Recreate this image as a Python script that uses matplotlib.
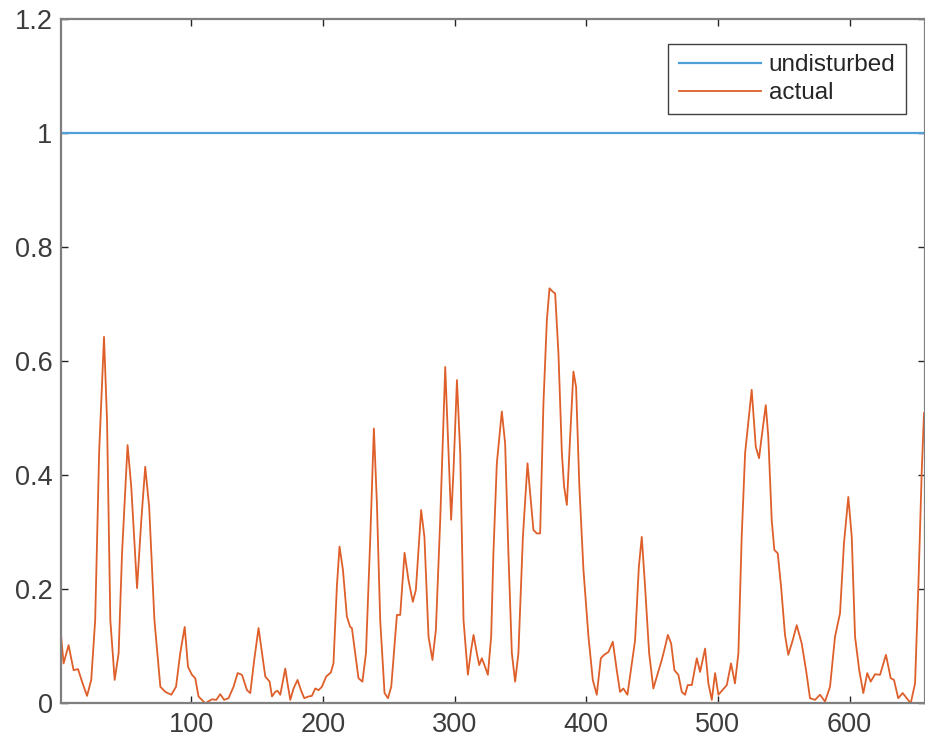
import matplotlib
matplotlib.use("Agg")
import matplotlib.pyplot as plt
from matplotlib.ticker import FormatStrFormatter

# undisturbed reference level
undisturbed_x = [1, 657]
undisturbed_y = [1.0, 1.0]

# actual signal
actual_x = [
    1, 3, 6.8, 10.6, 14, 17, 20.8, 24, 27, 30, 33.7, 36, 38.5, 41.8, 44.8, 47.4,
    51.6, 54.4, 58.8, 62, 65, 68, 72, 76.5, 80.3, 84.8, 88.4, 91.6, 95, 97.5,
    100.5, 103, 105.5, 109.3, 110.6, 115.7, 119, 122, 125, 128.3, 132.1, 135.2,
    138.5, 142.3, 144.8, 147.8, 151.1, 153.7, 156.2, 159.5, 161.3, 163.8, 165.5,
    167.6, 171.4, 173.1, 175.2, 177.7, 180.7, 183.3, 185.8, 189.1, 191.6, 194.2,
    196.7, 199.2, 202.5, 206, 208, 210.6, 212.6, 215.2, 218.2, 220.7, 222, 224.5,
    227, 230, 232.7, 236, 238.7, 241, 243.5, 246.8, 249.4, 251.9, 254.9, 256.2,
    258.7, 262, 265, 268.3, 270.6, 274.6, 277.1, 280.2, 283.2, 285.8, 289.1,
    292.9, 295.4, 297.4, 299.2, 301.8, 304.3, 306.8, 310.1, 312.6, 314.4, 316.9,
    318.7, 320.7, 322.7, 325.3, 327.8, 329.5, 332.1, 335.9, 338.4, 340.9, 343.5,
    346, 348.5, 351.9, 355.4, 357.9, 359.9, 362.5, 365, 367.5, 370.1, 372.1,
    374.6, 376.4, 378.9, 381.5, 383.2, 385.3, 387.8, 390.3, 392.3, 394.8, 397.9,
    401.7, 405, 408, 411.1, 413.6, 416.9, 420.2, 423.2, 425.7, 428.2, 431.3,
    433.9, 437.1, 440, 442.2, 444.7, 447.8, 451, 454.4, 457.4, 459.9, 462, 464.5,
    467, 470, 472.6, 475.1, 477.1, 480.2, 484, 486.5, 490.3, 492.8, 495.4, 497.9,
    500.4, 503.4, 506.8, 510, 513, 515.6, 518.1, 520.7, 525.7, 528.8, 531.3,
    533.3, 536.4, 538.3, 540.9, 542.9, 545.5, 548, 551, 553.5, 556.9, 559.9,
    563.7, 567, 570, 573.8, 577.6, 581.4, 585.2, 589, 592.8, 595.8, 599.1, 601.7,
    604.2, 607.4, 610.5, 613.5, 616.1, 619.4, 623.2, 627.7, 631.3, 633.8, 637,
    640.4, 643.4, 646.5, 649.8, 652.3, 654.9, 656.6,
]
actual_y = [
    0.12, 0.07, 0.102, 0.058, 0.06, 0.038, 0.013, 0.041, 0.146, 0.44, 0.643, 0.497,
    0.146, 0.041, 0.088, 0.263, 0.453, 0.38, 0.202, 0.32, 0.415, 0.345, 0.146,
    0.029, 0.02, 0.015, 0.029, 0.088, 0.134, 0.064, 0.05, 0.044, 0.012, 0.003,
    0.0, 0.007, 0.006, 0.016, 0.006, 0.009, 0.029, 0.053, 0.05, 0.023, 0.018,
    0.076, 0.132, 0.088, 0.047, 0.038, 0.012, 0.02, 0.022, 0.015, 0.061, 0.035,
    0.006, 0.026, 0.041, 0.023, 0.009, 0.012, 0.013, 0.026, 0.023, 0.029, 0.047,
    0.054, 0.07, 0.205, 0.275, 0.234, 0.152, 0.134, 0.132, 0.088, 0.044, 0.038,
    0.088, 0.292, 0.482, 0.351, 0.146, 0.018, 0.009, 0.029, 0.117, 0.155, 0.155,
    0.264, 0.216, 0.178, 0.199, 0.339, 0.292, 0.117, 0.076, 0.129, 0.322, 0.59,
    0.439, 0.322, 0.409, 0.567, 0.439, 0.146, 0.05, 0.094, 0.12, 0.088, 0.067,
    0.079, 0.067, 0.05, 0.117, 0.263, 0.421, 0.512, 0.456, 0.263, 0.088, 0.038,
    0.088, 0.292, 0.421, 0.357, 0.304, 0.298, 0.298, 0.526, 0.672, 0.728, 0.722,
    0.719, 0.614, 0.439, 0.38, 0.348, 0.468, 0.582, 0.555, 0.38, 0.234, 0.117,
    0.041, 0.015, 0.079, 0.085, 0.09, 0.108, 0.058, 0.02, 0.026, 0.015, 0.058,
    0.11, 0.24, 0.292, 0.205, 0.088, 0.026, 0.053, 0.076, 0.099, 0.12, 0.105,
    0.058, 0.05, 0.02, 0.015, 0.032, 0.032, 0.079, 0.055, 0.096, 0.035, 0.006,
    0.053, 0.015, 0.023, 0.032, 0.07, 0.035, 0.088, 0.292, 0.439, 0.55, 0.45,
    0.43, 0.468, 0.523, 0.468, 0.322, 0.269, 0.263, 0.205, 0.12, 0.085, 0.111,
    0.137, 0.105, 0.058, 0.009, 0.006, 0.015, 0.003, 0.029, 0.117, 0.158, 0.281,
    0.362, 0.292, 0.117, 0.058, 0.018, 0.053, 0.038, 0.051, 0.05, 0.085, 0.044,
    0.041, 0.009, 0.018, 0.009, 0.0, 0.035, 0.205, 0.409, 0.509,
]

x_ticks = [100, 200, 300, 400, 500, 600]
y_ticks = [0, 0.2, 0.4, 0.6, 0.8, 1.0, 1.2]

plt.rcParams["font.family"] = ["Liberation Sans", "DejaVu Sans"]

fig = plt.figure(figsize=(9.25, 7.47), dpi=100)
ax = fig.add_axes([0.0659, 0.0585, 0.9346, 0.9157])

ax.plot(undisturbed_x, undisturbed_y, color="#4f9fd8", lw=1.6, label="undisturbed")
ax.plot(actual_x, actual_y, color="#de5f2a", lw=1.3, label="actual")

ax.set_xlim(1, 657.7)
ax.set_ylim(0, 1.2)
ax.set_xticks(x_ticks)
ax.set_yticks(y_ticks)
ax.yaxis.set_major_formatter(FormatStrFormatter("%g"))

for s in ax.spines.values():
    s.set_color("#7f7f7f")
    s.set_linewidth(1.6)
ax.tick_params(direction="in", length=5, width=1, color="#262626",
               labelsize=19.5, labelcolor="#3c3c3c", top=True, right=True, pad=6)

leg = ax.legend(loc="upper right", bbox_to_anchor=(0.977, 0.964), borderaxespad=0,
                fontsize=17.5, fancybox=False, framealpha=1, edgecolor="#404040",
                handlelength=3.4, handletextpad=0.3, labelspacing=0.25, borderpad=0.42)
leg.get_frame().set_linewidth(1.0)
for t in leg.get_texts():
    t.set_color("#262626")

fig.savefig("out.png", dpi=100)
